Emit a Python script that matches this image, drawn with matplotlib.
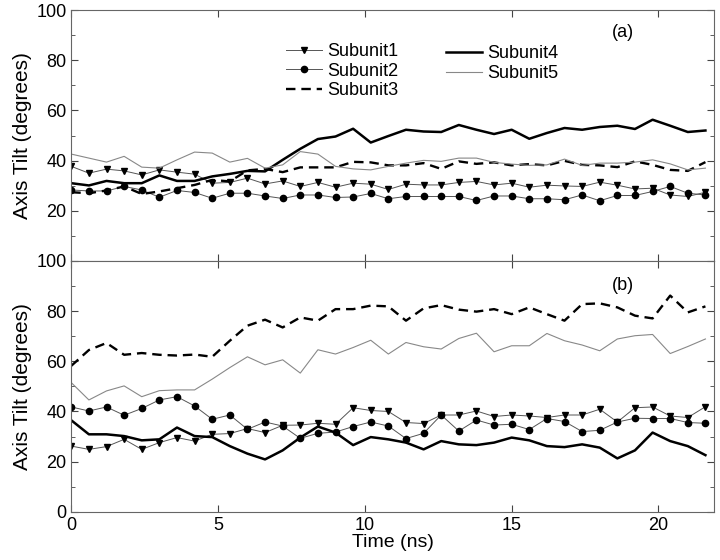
import numpy as np
import matplotlib.pyplot as plt
from matplotlib.ticker import MultipleLocator

plt.rcParams['font.family'] = ['Liberation Sans', 'DejaVu Sans']

# time axis: one point every 0.6 ns
time = np.arange(37) * 0.6

# panel (a)
a_sub1 = [37.7, 35.0, 36.6, 35.9, 34.3, 36.3, 35.4, 34.6, 31.0, 31.3, 33.0, 30.7, 31.9,
          29.7, 31.3, 29.4, 31.0, 30.6, 28.5, 30.6, 30.3, 30.3, 31.3, 31.7, 30.3, 31.0,
          29.4, 30.2, 29.9, 29.7, 31.4, 30.2, 28.7, 29.0, 26.3, 25.7, 27.4]
a_sub2 = [28.3, 27.9, 27.9, 29.7, 28.3, 25.4, 28.1, 27.3, 25.0, 27.0, 27.0, 25.9, 24.9,
          26.3, 26.3, 25.3, 25.5, 26.9, 24.8, 25.7, 25.7, 25.7, 25.7, 24.1, 25.9, 25.9,
          24.8, 24.8, 24.4, 26.3, 24.0, 26.1, 26.1, 27.7, 29.7, 27.0, 26.3]
a_sub3 = [27.4, 27.0, 28.1, 29.7, 26.7, 27.7, 29.0, 30.3, 32.3, 31.7, 36.1, 36.7, 35.4,
          37.3, 37.3, 37.3, 39.5, 39.3, 38.1, 38.1, 39.0, 36.7, 39.7, 38.7, 39.3, 38.1,
          38.6, 38.1, 39.9, 38.3, 38.1, 37.4, 39.7, 38.3, 36.3, 35.9, 39.4]
a_sub4 = [31.0, 30.1, 31.9, 31.0, 31.0, 34.1, 31.9, 31.9, 33.7, 34.7, 35.9, 35.7, 40.3,
          44.7, 48.6, 49.6, 52.7, 47.2, 49.8, 52.3, 51.6, 51.4, 54.2, 52.3, 50.6, 52.3,
          48.7, 51.0, 53.0, 52.3, 53.4, 53.9, 52.6, 56.3, 53.9, 51.4, 52.0]
a_sub5 = [42.6, 41.0, 39.4, 41.7, 37.4, 37.0, 40.3, 43.4, 43.0, 39.4, 40.9, 37.0, 38.3,
          43.6, 42.6, 37.7, 36.7, 36.3, 37.7, 39.0, 40.1, 39.7, 41.0, 41.0, 39.3, 38.6,
          38.1, 38.3, 40.6, 38.1, 39.0, 39.0, 39.4, 40.3, 38.7, 36.3, 37.0]

# panel (b)
b_sub1 = [26.2, 24.9, 26.0, 28.9, 24.9, 27.6, 29.6, 28.2, 30.9, 31.2, 33.2, 31.6, 34.5,
          34.6, 35.3, 34.9, 41.5, 40.4, 40.0, 35.6, 35.2, 38.6, 38.6, 40.2, 38.0, 38.6,
          38.2, 37.6, 38.6, 38.6, 40.9, 35.8, 41.5, 41.8, 38.2, 37.6, 41.9]
b_sub2 = [41.8, 40.2, 41.8, 38.5, 41.2, 44.6, 45.9, 42.2, 36.9, 38.6, 32.9, 35.8, 34.2,
          29.3, 31.3, 31.8, 34.0, 35.8, 34.2, 29.2, 31.3, 38.6, 32.2, 36.6, 34.6, 34.9,
          32.8, 37.2, 36.0, 32.0, 32.5, 35.8, 37.3, 37.2, 37.2, 35.6, 35.3]
b_sub3 = [58.2, 64.5, 67.3, 62.6, 63.3, 62.6, 62.3, 62.7, 61.8, 68.2, 74.2, 76.6, 73.5,
          77.5, 76.2, 80.8, 80.8, 82.2, 81.9, 76.2, 81.1, 82.4, 80.6, 79.8, 80.8, 78.8,
          81.5, 78.8, 76.2, 82.8, 83.1, 81.5, 78.2, 77.1, 86.2, 79.5, 81.9]
b_sub4 = [36.5, 30.9, 30.9, 30.2, 28.5, 28.9, 33.6, 30.2, 29.8, 26.2, 23.2, 20.9, 24.5,
          29.6, 34.0, 31.6, 26.6, 29.8, 28.9, 27.6, 24.9, 28.2, 26.9, 26.6, 27.6, 29.6,
          28.5, 26.2, 25.8, 26.9, 25.6, 21.3, 24.5, 31.6, 28.2, 26.2, 22.6]
b_sub5 = [51.5, 44.6, 48.2, 50.2, 45.9, 48.3, 48.6, 48.6, 52.9, 57.5, 61.8, 58.6, 60.6,
          55.3, 64.6, 62.9, 65.5, 68.4, 62.9, 67.5, 65.8, 64.9, 69.1, 71.2, 63.8, 66.2,
          66.2, 71.1, 68.2, 66.5, 64.2, 68.9, 70.2, 70.7, 63.1, 65.9, 68.9]

fig, (ax1, ax2) = plt.subplots(2, 1, figsize=(7.2, 5.6), dpi=100, sharex=True)
fig.subplots_adjust(left=0.099, right=0.992, top=0.982, bottom=0.086, hspace=0)


def draw(ax, s1, s2, s3, s4, s5):
    l1, = ax.plot(time, s1, color='#555555', lw=0.7, marker='v', ms=5,
                  mfc='black', mec='black', label='Subunit1')
    l2, = ax.plot(time, s2, color='#555555', lw=0.7, marker='o', ms=4.5,
                  mfc='black', mec='black', label='Subunit2')
    l3, = ax.plot(time, s3, color='black', lw=1.7, ls=(0, (4, 2.5)), label='Subunit3')
    l4, = ax.plot(time, s4, color='black', lw=1.8, label='Subunit4')
    l5, = ax.plot(time, s5, color='#888888', lw=0.8, label='Subunit5')
    ax.set_ylim(0, 100)
    ax.set_xlim(0, 21.9)
    ax.yaxis.set_major_locator(MultipleLocator(20))
    ax.yaxis.set_minor_locator(MultipleLocator(10))
    ax.xaxis.set_major_locator(MultipleLocator(5))
    ax.tick_params(direction='in', which='both', top=True, right=True, labelsize=13,
                   color='#444444')
    ax.tick_params(which='major', length=5)
    ax.tick_params(which='minor', length=3)
    for sp in ax.spines.values():
        sp.set_color('#666666')
    ax.set_ylabel('Axis Tilt (degrees)', fontsize=15, labelpad=3)
    return [l1, l2, l3, l4, l5]


h = draw(ax1, a_sub1, a_sub2, a_sub3, a_sub4, a_sub5)
draw(ax2, b_sub1, b_sub2, b_sub3, b_sub4, b_sub5)

ax1.set_yticks([20, 40, 60, 80, 100])
ax2.set_yticks([0, 20, 40, 60, 80, 100])
ax2.set_xlabel('Time (ns)', fontsize=14, labelpad=0)

leg_kw = dict(loc='upper left', frameon=False, fontsize=13, handlelength=2.0,
              labelspacing=0.15, borderpad=0, handletextpad=0.3)
leg1 = ax1.legend(handles=h[:3], bbox_to_anchor=(0.32, 0.905), **leg_kw)
ax1.add_artist(leg1)
ax1.legend(handles=h[3:], bbox_to_anchor=(0.569, 0.895), **leg_kw)

ax1.text(0.841, 0.912, '(a)', transform=ax1.transAxes, fontsize=13, va='center')
ax2.text(0.841, 0.904, '(b)', transform=ax2.transAxes, fontsize=13, va='center')

fig.savefig('out.png')
